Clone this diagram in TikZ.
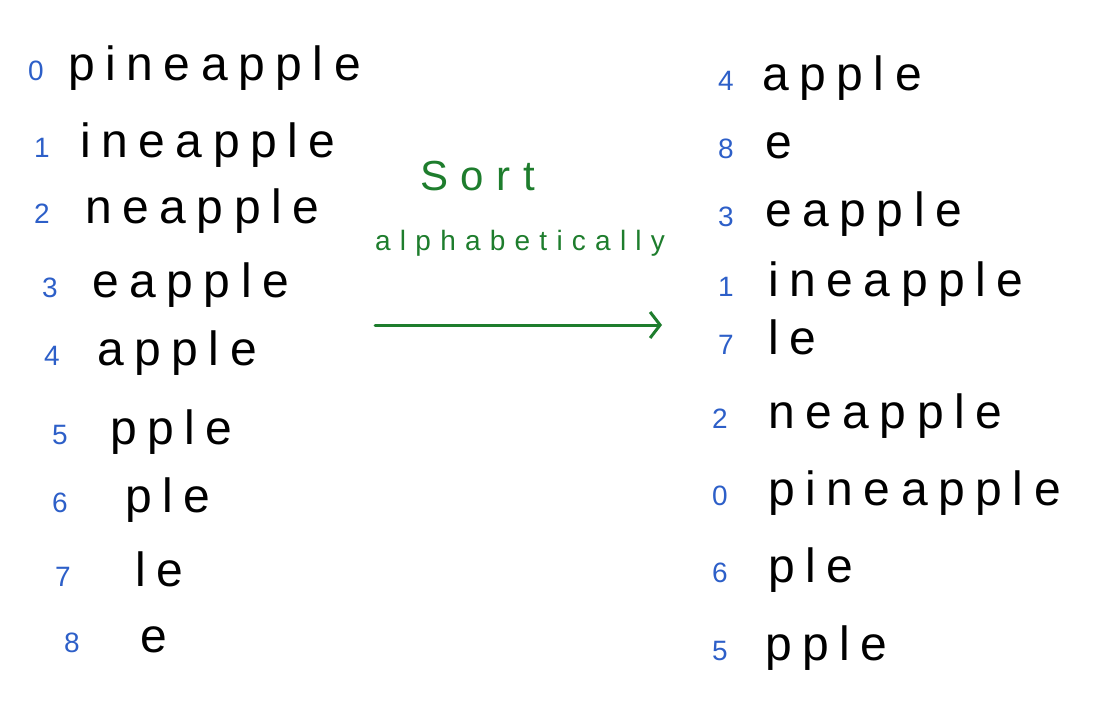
\documentclass[tikz,border=0pt]{standalone}
\usepackage{fontspec}
\setmainfont{Liberation Sans}
\usetikzlibrary{arrows.meta}
\definecolor{numblue}{RGB}{45,95,200}
\definecolor{sortgreen}{RGB}{30,125,45}
\begin{document}
\begin{tikzpicture}[x=1pt,y=-1pt,
  word/.style={anchor=base west,inner sep=0pt,text=black,
    font=\fontsize{48}{56}\selectfont\addfontfeature{LetterSpace=22}},
  num/.style={anchor=base west,inner sep=0pt,text=numblue,
    font=\fontsize{28}{32}\selectfont},
  gtext/.style={anchor=base west,inner sep=0pt,text=sortgreen}]
\useasboundingbox (0,0) rectangle (1107,724);
% left column
\node[num] (a0) at (28,80) {0};   \node[word] (w0) at (68,80) {pineapple};
\node[num] (a1) at (34,157) {1};  \node[word] (w1) at (80,157) {ineapple};
\node[num] (a2) at (34,223) {2};  \node[word] (w2) at (85,223) {neapple};
\node[num] (a3) at (42,297) {3};  \node[word] (w3) at (92,297) {eapple};
\node[num] (a4) at (44,365) {4};  \node[word] (w4) at (97,365) {apple};
\node[num] (a5) at (52,444) {5};  \node[word] (w5) at (110,444) {pple};
\node[num] (a6) at (52,512) {6};  \node[word] (w6) at (125,512) {ple};
\node[num] (a7) at (55,586) {7};  \node[word] (w7) at (135,586) {le};
\node[num] (a8) at (64,652) {8};  \node[word] (w8) at (140,652) {e};
% right column
\node[num] (b0) at (718,90) {4};  \node[word] (s0) at (762,90) {apple};
\node[num] (b1) at (718,158) {8}; \node[word] (s1) at (765,158) {e};
\node[num] (b2) at (718,226) {3}; \node[word] (s2) at (765,226) {eapple};
\node[num] (b3) at (718,296) {1}; \node[word] (s3) at (768,296) {ineapple};
\node[num] (b4) at (718,354) {7}; \node[word] (s4) at (768,354) {le};
\node[num] (b5) at (712,428) {2}; \node[word] (s5) at (768,428) {neapple};
\node[num] (b6) at (712,505) {0}; \node[word] (s6) at (768,505) {pineapple};
\node[num] (b7) at (712,582) {6}; \node[word] (s7) at (768,582) {ple};
\node[num] (b8) at (712,660) {5}; \node[word] (s8) at (765,660) {pple};
% label and arrow
\node[gtext,font=\fontsize{42}{48}\selectfont\addfontfeature{LetterSpace=30}] (sort) at (420,190) {Sort};
\node[gtext,font=\fontsize{28}{32}\selectfont\addfontfeature{LetterSpace=33}] (alpha) at (375,250) {alphabetically};
\coordinate (p1) at (375,325);
\coordinate (p2) at (662,325);
\draw[sortgreen,line width=3pt,line cap=round,
  -{Straight Barb[length=10pt,width=26pt,line width=3pt]}] (p1) -- (p2);
\end{tikzpicture}
\end{document}
